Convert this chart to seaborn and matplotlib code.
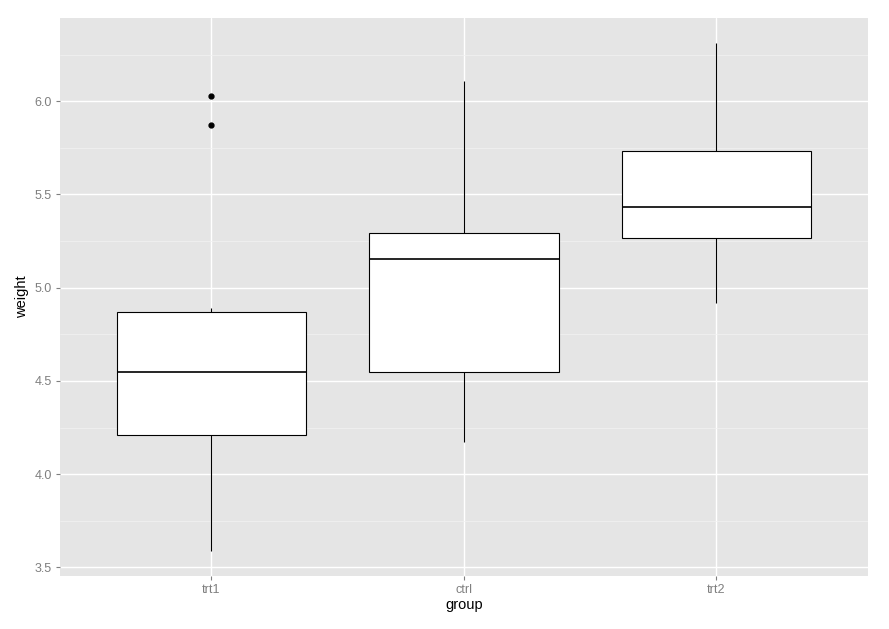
import pandas as pd
import numpy as np
import matplotlib
matplotlib.use("Agg")
import matplotlib.pyplot as plt
from matplotlib.ticker import MultipleLocator
import seaborn as sns

# PlantGrowth weights per group
trt1 = [4.81, 4.17, 4.41, 3.59, 5.87, 3.83, 6.03, 4.89, 4.32, 4.69]
ctrl = [4.17, 5.58, 5.18, 6.11, 4.50, 4.61, 5.17, 4.53, 5.33, 5.14]
trt2 = [6.31, 5.12, 5.54, 5.50, 5.37, 5.29, 4.92, 6.15, 5.80, 5.26]
order = ["trt1", "ctrl", "trt2"]

df = pd.DataFrame({
    "group": ["trt1"] * len(trt1) + ["ctrl"] * len(ctrl) + ["trt2"] * len(trt2),
    "weight": trt1 + ctrl + trt2,
})

sns.set_theme(style="darkgrid")
plt.rcParams["font.family"] = ["Liberation Sans", "DejaVu Sans"]

fig = plt.figure(figsize=(8.89, 6.29), dpi=100)
ax = fig.add_axes([60 / 889, 1 - 576 / 629, 808 / 889, 558 / 629])
ax.set_facecolor("#E5E5E5")

sns.boxplot(data=df, x="group", y="weight", order=order, color="white",
            saturation=1, linecolor="black", linewidth=0.8, width=0.75,
            showcaps=False, whis=1.5,
            medianprops=dict(linewidth=1.2),
            flierprops=dict(marker="o", markerfacecolor="black",
                            markeredgecolor="black", markersize=3.5),
            ax=ax)

ax.set_xlim(-0.6, 2.6)
ax.set_ylim(3.454, 6.446)
ax.yaxis.set_major_locator(MultipleLocator(0.5))
ax.yaxis.set_minor_locator(MultipleLocator(0.25))
ax.grid(which="major", color="white", linewidth=1.0)
ax.grid(which="minor", axis="y", color="#F2F2F2", linewidth=0.5)
ax.set_axisbelow(True)
for s in ax.spines.values():
    s.set_visible(False)

ax.tick_params(axis="both", which="major", labelsize=9, labelcolor="#7F7F7F",
               color="#7F7F7F", length=3, width=0.8, bottom=True, left=True, pad=3)
ax.tick_params(axis="y", which="minor", length=0)
ax.set_yticklabels([f"{t:.1f}" for t in ax.get_yticks()])
ax.set_xlabel("group", fontsize=10.5, color="black", labelpad=1)
ax.set_ylabel("weight", fontsize=10.5, color="black", labelpad=4)

fig.savefig("out.png", dpi=100)
